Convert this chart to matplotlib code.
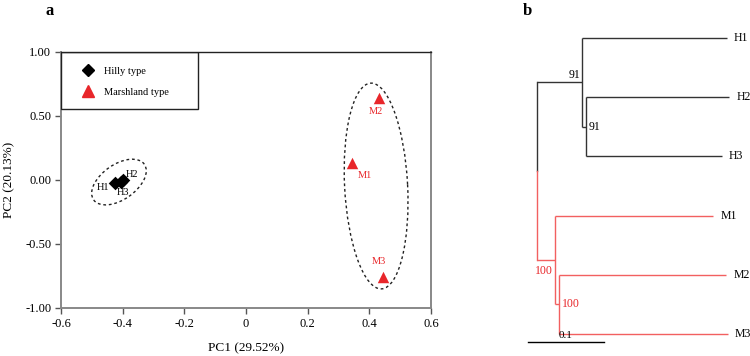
import matplotlib
matplotlib.use("Agg")
import matplotlib.pyplot as plt
from matplotlib.patches import Ellipse, Rectangle
from matplotlib.lines import Line2D
from matplotlib.transforms import ScaledTranslation
from matplotlib.ticker import FixedLocator, FuncFormatter

plt.rcParams['font.family'] = ['Liberation Serif', 'DejaVu Serif']
plt.rcParams['axes.unicode_minus'] = False

# ---------------- data ----------------
hilly_names = ["H1", "H2", "H3"]
hilly_pc1 = [-0.425, -0.398, -0.405]
hilly_pc2 = [-0.023, 0.0, -0.012]

marsh_names = ["M1", "M2", "M3"]
marsh_pc1 = [0.344, 0.431, 0.444]
marsh_pc2 = [0.133, 0.640, -0.758]

x_ticks = [-0.6, -0.4, -0.2, 0, 0.2, 0.4, 0.6]
y_ticks = [-1.0, -0.5, 0.0, 0.5, 1.0]

# tree: (child, parent, branch length)
tree_edges = [
    ("Hclade", "root", 0.059),
    ("H1", "Hclade", 0.191),
    ("H23", "Hclade", 0.005),
    ("H2", "H23", 0.189),
    ("H3", "H23", 0.179),
    ("Mclade", "root", 0.024),
    ("M1", "Mclade", 0.208),
    ("M23", "Mclade", 0.005),
    ("M2", "M23", 0.220),
    ("M3", "M23", 0.222),
]
leaf_order = ["H1", "H2", "H3", "M1", "M2", "M3"]
bootstrap = {"Hclade": "91", "H23": "91", "Mclade": "100", "M23": "100"}

RED = '#E8262A'
TREE_RED = '#F26060'
TREE_BLACK = '#333333'

fig = plt.figure(figsize=(7.5, 3.56), dpi=100)

# ---------------- panel a ----------------
ax = fig.add_axes([61/750, 1-308/356, 370/750, 256/356])
ax.set_xlim(-0.6, 0.6)
ax.set_ylim(-1.0, 1.0)

ax.scatter(hilly_pc1, hilly_pc2, marker='D', s=48, color='black', zorder=3, linewidths=0)
ax.scatter(marsh_pc1, marsh_pc2, marker='^', s=68, color=RED, zorder=3, linewidths=0)

h_offsets = {"H1": (-4, -3, 'right', 'center'), "H2": (2, 4, 'left', 'center'),
             "H3": (-3, -8, 'left', 'center')}
for n, x, y in zip(hilly_names, hilly_pc1, hilly_pc2):
    dx, dy, ha, va = h_offsets[n]
    ax.annotate(n, (x, y), xytext=(dx, dy), textcoords='offset points',
                ha=ha, va=va, fontsize=7.5, color='black')
m_offsets = {"M1": (4, -9, 'left', 'center'), "M2": (-2, -10, 'center', 'center'),
             "M3": (-3, 11, 'center', 'center')}
for n, x, y in zip(marsh_names, marsh_pc1, marsh_pc2):
    dx, dy, ha, va = m_offsets[n]
    ax.annotate(n, (x, y), xytext=(dx, dy), textcoords='offset points',
                ha=ha, va=va, fontsize=7.5, color=RED)

# confidence ellipses (sized in inches, centred in data coords)
for cx, cy, w, h, ang in [(-0.412, -0.016, 0.62, 0.35, 35), (0.422, -0.047, 2.06, 0.63, 93)]:
    e = Ellipse((0, 0), w, h, angle=ang, fill=False, edgecolor='#222222',
                linestyle=(0, (2, 2)), linewidth=1.0,
                transform=fig.dpi_scale_trans + ScaledTranslation(cx, cy, ax.transData))
    ax.add_patch(e)

# legend box
ax.add_patch(Rectangle((0, 1 - 57/256), 137/370, 57/256, transform=ax.transAxes,
                       fill=False, edgecolor='#222222', linewidth=1.0, zorder=4))
handles = [Line2D([], [], marker='D', color='black', linestyle='none', markersize=6.5),
           Line2D([], [], marker='^', color=RED, linestyle='none', markersize=8)]
ax.legend(handles, ["Hilly type", "Marshland type"], loc='upper left',
          bbox_to_anchor=(0.06, 0.942), borderaxespad=0, borderpad=0, frameon=False,
          fontsize=7.5, handlelength=1.0, handletextpad=1.0, labelspacing=1.1)

ax.xaxis.set_major_locator(FixedLocator(x_ticks))
ax.yaxis.set_major_locator(FixedLocator(y_ticks))
ax.xaxis.set_major_formatter(FuncFormatter(lambda v, p: '0' if abs(v) < 1e-9 else f'{v:.1f}'))
ax.yaxis.set_major_formatter(FuncFormatter(lambda v, p: f'{v:.2f}'))
ax.tick_params(axis='both', direction='out', length=4, width=1, color='#555555',
               labelsize=9, pad=3)
for s in ['left', 'bottom', 'right']:
    ax.spines[s].set_color('#888888')
    ax.spines[s].set_linewidth(1.4)
ax.spines['top'].set_color('#222222')
ax.spines['top'].set_linewidth(1.0)
ax.set_xlabel("PC1 (29.52%)", fontsize=9.5, labelpad=9)
ax.set_ylabel("PC2 (20.13%)", fontsize=9.5, labelpad=7)

fig.text(50/750, 1-11/356, "a", fontsize=12, fontweight='bold', ha='center', va='center')
fig.text(527/750, 1-11/356, "b", fontsize=12, fontweight='bold', ha='center', va='center')

# ---------------- panel b: tree ----------------
tx = fig.add_axes([500/750, 0, 250/750, 1])
tx.set_xlim(-37/760, 213/760)
tx.set_ylim((356-38)/59.2, -38/59.2)
tx.axis('off')

parent = {c: p for c, p, _ in tree_edges}
blen = {c: l for c, _, l in tree_edges}
children = {}
for c, p, _ in tree_edges:
    children.setdefault(p, []).append(c)

xpos = {"root": 0.0}
def set_x(n):
    for c in children.get(n, []):
        xpos[c] = xpos[n] + blen[c]
        set_x(c)
set_x("root")
ypos = {n: i for i, n in enumerate(leaf_order)}
def set_y(n):
    if n in ypos:
        return ypos[n]
    ys = [set_y(c) for c in children[n]]
    ypos[n] = (min(ys) + max(ys)) / 2
    return ypos[n]
set_y("root")

def color_of(n):
    while n in parent and parent[n] != "root":
        n = parent[n]
    return TREE_BLACK if n.startswith("H") else TREE_RED

for c, p, _ in tree_edges:
    col = color_of(c)
    tx.plot([xpos[p], xpos[c]], [ypos[c], ypos[c]], color=col, lw=1.0, solid_capstyle='butt')
    if c in children:
        ys = [ypos[k] for k in children[c]]
        tx.plot([xpos[c], xpos[c]], [min(ys), max(ys)], color=col, lw=1.0, solid_capstyle='butt')
# root vertical, split by clade colour
rmid = (ypos["Hclade"] + ypos["Mclade"]) / 2
tx.plot([0, 0], [ypos["Hclade"], rmid], color=TREE_BLACK, lw=1.0)
tx.plot([0, 0], [rmid, ypos["Mclade"]], color=TREE_RED, lw=1.0)

for n in leaf_order:
    tx.annotate(n, (xpos[n], ypos[n]), xytext=(5, 0), textcoords='offset points',
                ha='left', va='center', fontsize=8.5, color='black')

tx.annotate(bootstrap["Hclade"], (xpos["Hclade"], ypos["Hclade"]), xytext=(-1, 1),
            textcoords='offset points', ha='right', va='bottom', fontsize=8.5, color='black')
tx.annotate(bootstrap["H23"], (xpos["H23"], ypos["H23"]), xytext=(2, 0),
            textcoords='offset points', ha='left', va='center', fontsize=8.5, color='black')
tx.annotate(bootstrap["Mclade"], (xpos["Mclade"], ypos["Mclade"]), xytext=(-2, -8),
            textcoords='offset points', ha='right', va='center', fontsize=8.5, color=RED)
tx.annotate(bootstrap["M23"], (xpos["M23"], ypos["M23"]), xytext=(2, 0),
            textcoords='offset points', ha='left', va='center', fontsize=8.5, color=RED)

# scale bar
sb_y = (342 - 38) / 59.2
tx.plot([-0.0118, -0.0118 + 0.1], [sb_y, sb_y], color='black', lw=1.0)
tx.text(-0.0118 + 0.05, sb_y - 0.03, "0.1", ha='center', va='bottom', fontsize=8)

fig.savefig("out.png", dpi=100)
